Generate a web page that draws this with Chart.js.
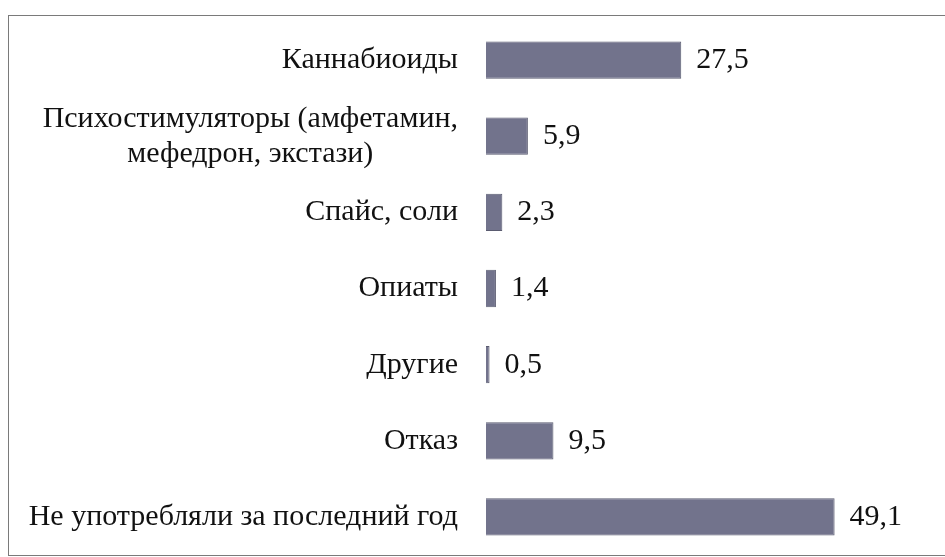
<!DOCTYPE html>
<html>
<head>
<meta charset="utf-8">
<script src="https://cdn.jsdelivr.net/npm/chart.js@4"></script>
</head>
<body style="margin:0; background:#fff">
<canvas id="chart" width="945" height="557"></canvas>
<script>
const categories = [
  'Каннабиоиды',
  ['Психостимуляторы (амфетамин,', 'мефедрон, экстази)'],
  'Спайс, соли',
  'Опиаты',
  'Другие',
  'Отказ',
  'Не употребляли за последний год',
]
const values = [27.5, 5.9, 2.3, 1.4, 0.5, 9.5, 49.1]

const FONT = "30px 'Liberation Serif', 'Times New Roman', serif"

// прогрев шрифта до отрисовки графика
const warm = document.createElement('canvas').getContext('2d')
warm.font = FONT
warm.fillText('Каннабиоиды 27,5 Serif', 0, 20)
warm.measureText('Каннабиоиды 27,5 Serif')

// рамка вокруг рисунка (правый и нижний край уходят за кадр)
const frame = {
  id: 'frame',
  beforeDraw(chart) {
    const ctx = chart.ctx
    ctx.save()
    ctx.strokeStyle = '#7a7a7a'
    ctx.lineWidth = 1
    ctx.strokeRect(8.5, 15.5, 960, 540)
    ctx.restore()
  },
}

// подписи категорий: строки по центру блока, блок прижат вправо
const categoryLabels = {
  id: 'categoryLabels',
  afterDraw(chart) {
    const ctx = chart.ctx
    const y = chart.scales.y
    const right = chart.chartArea.left - 28
    ctx.save()
    ctx.font = FONT
    ctx.fillStyle = '#111'
    ctx.textAlign = 'center'
    ctx.textBaseline = 'middle'
    categories.forEach((lab, i) => {
      const lines = Array.isArray(lab) ? lab : [lab]
      const w = Math.max(...lines.map(l => ctx.measureText(l).width))
      const cx = right - w / 2
      const y0 = y.getPixelForValue(i) - (lines.length - 1) * 35 / 2
      lines.forEach((l, j) => ctx.fillText(l, cx, y0 + j * 35))
    })
    ctx.restore()
  },
}

// подписи значений справа от столбцов
const valueLabels = {
  id: 'valueLabels',
  afterDraw(chart) {
    const ctx = chart.ctx
    const meta = chart.getDatasetMeta(0)
    ctx.save()
    ctx.font = FONT
    ctx.fillStyle = '#111'
    ctx.textAlign = 'left'
    ctx.textBaseline = 'middle'
    meta.data.forEach((bar, i) => {
      ctx.fillText(values[i].toFixed(1).replace('.', ','), bar.x + 15, bar.y)
    })
    ctx.restore()
  },
}

const chart = new Chart(document.getElementById('chart'), {
  type: 'bar',
  data: {
    labels: categories,
    datasets: [{
      data: values,
      backgroundColor: '#72738c',
      borderColor: '#5a5b70',
      borderWidth: 1,
      barPercentage: 0.49,
      categoryPercentage: 1,
    }],
  },
  options: {
    indexAxis: 'y',
    responsive: false,
    animation: false,
    layout: { padding: { top: 22, bottom: 2, right: 33, left: 10 } },
    plugins: { legend: { display: false }, tooltip: { enabled: false } },
    scales: {
      x: { display: false, min: 0, max: 60 },
      y: {
        grid: { display: false },
        border: { display: false },
        ticks: { display: false },
        afterFit(scale) {
          scale.width = 476
          scale.paddingTop = 0
          scale.paddingBottom = 0
        },
      },
    },
  },
  plugins: [frame, categoryLabels, valueLabels],
})

// перерисовка, если шрифт подгрузился позже
document.fonts.ready.then(() => chart.draw())
setTimeout(() => chart.draw(), 150)
</script>
</body>
</html>
